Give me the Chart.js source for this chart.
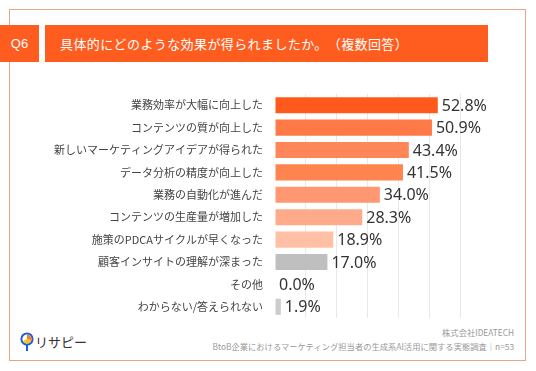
<!DOCTYPE html>
<html>
<head>
<meta charset="utf-8">
<script src="https://cdn.jsdelivr.net/npm/chart.js@4/dist/chart.umd.min.js"></script>
<style>
  body { margin: 0; background: #fff; }
  #wrap { position: relative; width: 536px; height: 371px; overflow: hidden; font-family: 'Noto Sans CJK JP', 'Noto Sans', sans-serif; text-spacing-trim: space-all; }
  #frame { position: absolute; left: 9px; top: 9px; width: 515px; height: 350px; border: 1px solid #eaa684; }
  #qbox { position: absolute; left: 0; top: 25px; width: 39px; height: 37px; background: #ff5d1f; color: #fff; font-family: 'Liberation Sans', sans-serif; font-size: 13px; line-height: 37px; text-align: center; }
  #title { position: absolute; left: 45px; top: 25px; width: 443px; height: 37px; background: #ff5d1f; color: #fff; font-size: 13px; line-height: 37px; padding-left: 15px; box-sizing: border-box; letter-spacing: 0.4px; }
  #logo { position: absolute; left: 20px; top: 332px; height: 22px; }
  #logotext { position: absolute; left: 35px; top: 333px; font-size: 13px; line-height: 18px; color: #333; }
  #foot { position: absolute; right: 22px; top: 325px; text-align: right; color: #999; font-size: 8.3px; line-height: 14px; }
  canvas { position: absolute; left: 0; top: 0; }
</style>
</head>
<body>
<div id="wrap">
  <div id="frame"></div>
  <div id="qbox">Q6</div>
  <div id="title">具体的にどのような効果が得られましたか。（複数回答）</div>
  <svg id="logo" width="14" height="22" viewBox="0 0 14 22">
    <circle cx="7" cy="7" r="5.6" fill="#fff" stroke="#1f5fd6" stroke-width="2"/>
    <path d="M7 7 L7 2.6 A4.4 4.4 0 0 1 11.2 8.3 Z" fill="#ff7a1a"/>
    <path d="M7 7 L11.2 8.3 A4.4 4.4 0 0 1 3 9 Z" fill="#ffc21a"/>
    <line x1="7" y1="12.6" x2="7" y2="19" stroke="#1f5fd6" stroke-width="2"/>
  </svg>
  <div id="logotext">リサピー</div>
  <div id="foot">株式会社IDEATECH<br>BtoB企業におけるマーケティング担当者の生成系AI活用に関する実態調査｜n=53</div>
  <canvas id="chart" width="536" height="371"></canvas>
</div>
<script>
const categories = [
  '業務効率が大幅に向上した',
  'コンテンツの質が向上した',
  '新しいマーケティングアイデアが得られた',
  'データ分析の精度が向上した',
  '業務の自動化が進んだ',
  'コンテンツの生産量が増加した',
  '施策のPDCAサイクルが早くなった',
  '顧客インサイトの理解が深まった',
  'その他',
  'わからない/答えられない'
];
const values = [52.8, 50.9, 43.4, 41.5, 34.0, 28.3, 18.9, 17.0, 0.0, 1.9];
const barColors = ['#ff5a1c', '#ff7a46', '#ff8658', '#ff8450', '#ff9772', '#ffab8b', '#ffc0a6', '#bfbfbf', '#bfbfbf', '#cccccc'];

const valueLabels = {
  id: 'valueLabels',
  afterDatasetsDraw(chart) {
    const ctx = chart.ctx;
    const meta = chart.getDatasetMeta(0);
    ctx.save();
    ctx.font = '16px "Noto Sans", "Noto Sans CJK JP", sans-serif';
    ctx.fillStyle = '#333';
    ctx.textAlign = 'left';
    ctx.textBaseline = 'middle';
    meta.data.forEach((bar, i) => {
      ctx.fillText(values[i].toFixed(1) + '%', bar.x + 4, bar.y + 1);
    });
    ctx.restore();
  }
};

new Chart(document.getElementById('chart'), {
  type: 'bar',
  data: {
    labels: categories,
    datasets: [{
      data: values,
      backgroundColor: barColors,
      borderWidth: 0,
      barPercentage: 0.72,
      categoryPercentage: 1
    }]
  },
  options: {
    indexAxis: 'y',
    responsive: false,
    animation: false,
    layout: { padding: { top: 94, bottom: 53, left: 10, right: 76 } },
    plugins: { legend: { display: false }, tooltip: { enabled: false } },
    scales: {
      x: {
        min: 0,
        max: 60,
        ticks: { display: false, stepSize: 10 },
        border: { display: false },
        grid: {
          drawTicks: false,
          color: (c) => (c.tick && c.tick.value === 0 ? 'rgba(0,0,0,0)' : '#e8e8e8')
        }
      },
      y: {
        border: { display: false },
        grid: { display: false, drawTicks: false },
        ticks: {
          color: '#444',
          padding: 12,
          font: { size: 11, family: '"Noto Sans CJK JP", sans-serif' }
        },
        afterFit(scale) { scale.width = 265; }
      }
    }
  },
  plugins: [valueLabels]
});
</script>
</body>
</html>
